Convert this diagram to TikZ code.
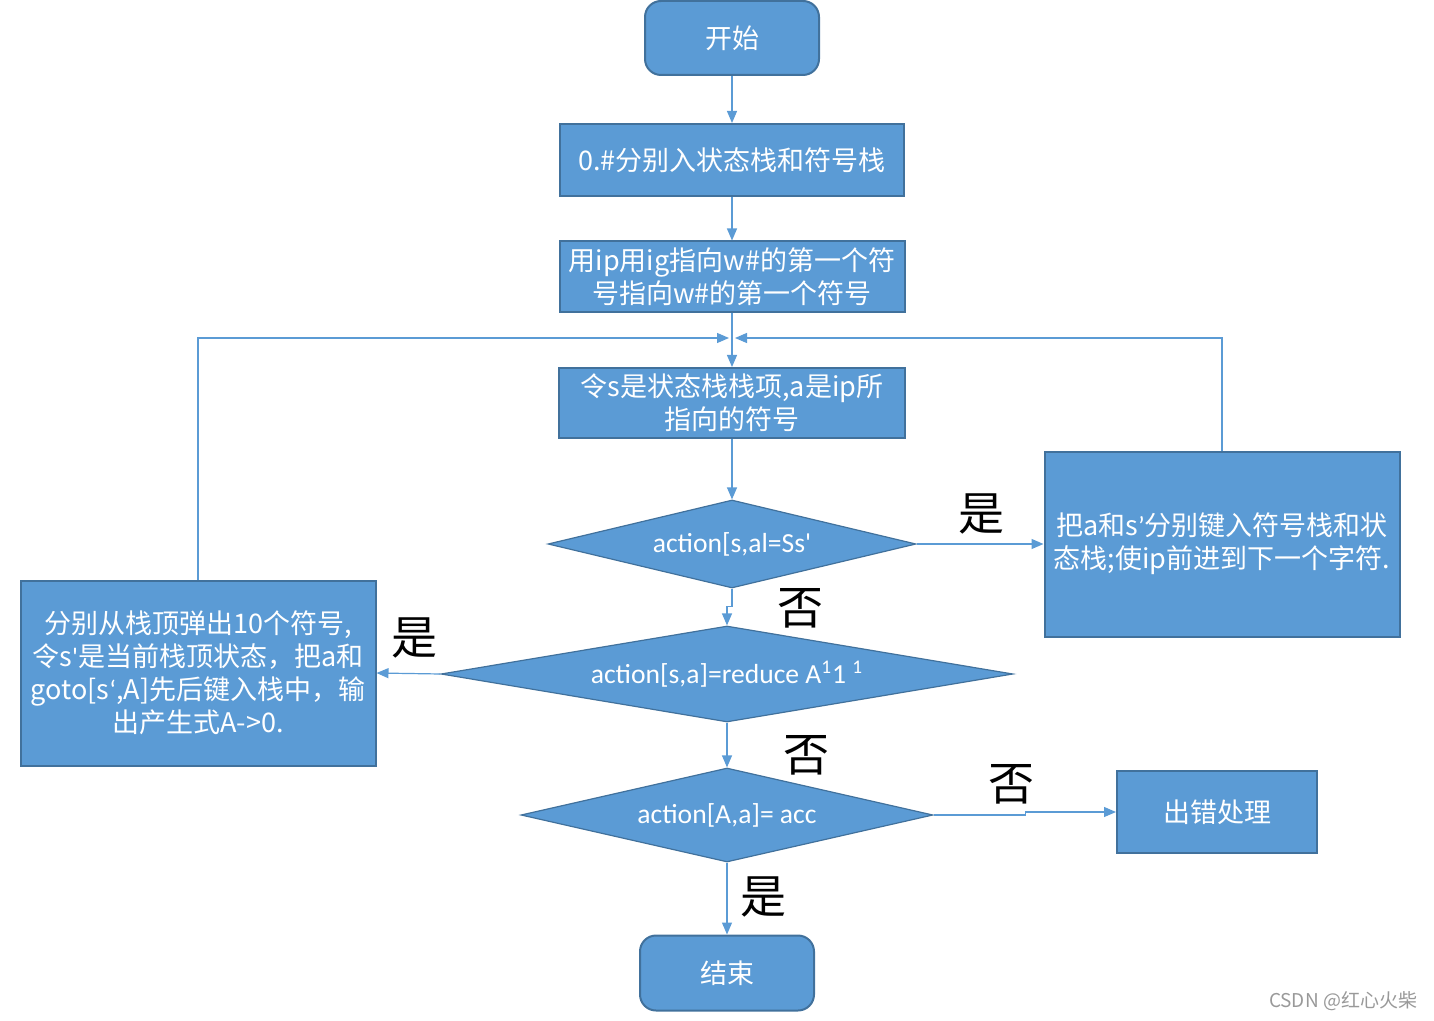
\documentclass[tikz,border=0pt]{standalone}
\usepackage{fontspec}
\setmainfont{Noto Sans CJK SC}
\newfontfamily\latinfont{Carlito}
\usetikzlibrary{shapes.geometric,arrows.meta}

\definecolor{boxfill}{HTML}{5B9BD5}
\definecolor{boxedge}{HTML}{41719C}
\definecolor{linecol}{HTML}{5B9BD5}

\tikzset{
  box/.style={draw=boxedge, fill=boxfill, line width=1pt, text=white,
    align=center, inner sep=0pt, font=\fontsize{13.5}{16.5}\selectfont},
  term/.style={box, rounded corners=8pt},
  test/.style={diamond, draw=boxedge, fill=boxfill, line width=0.6pt,
    text=white, inner sep=0pt, font=\latinfont\fontsize{13.8}{16}\selectfont},
  flow/.style={draw=linecol, line width=0.6pt, -{Triangle[width=5pt,length=6pt]}},
  answer/.style={text=black, font=\fontsize{23}{23}\selectfont},
}
\newcommand{\sq}{{\latinfont\textquotesingle}}

\begin{document}
\begin{tikzpicture}[x=0.5pt, y=-0.5pt]
   % Sizes
   \pgfmathsetmacro{\midx}{732}
   \pgfmathsetmacro{\lowx}{727}
   \useasboundingbox (0,0) rectangle (1434,1021);

   % boxes
   \node[term, minimum width=87pt, minimum height=37pt] (start) at (\midx, 38) {开始};
   \node[box, minimum width=172pt, minimum height=36pt] (init) at (\midx, 160) {0.\#分别入状态栈和符号栈};
   \node[box, minimum width=172.5pt, minimum height=35.5pt] (ip) at (\midx, 277)
     {用ip用ig指向w\#的第一个符\\号指向w\#的第一个符号};
   \coordinate (merge) at (\midx, 338);
   \node[box, minimum width=173pt, minimum height=35pt] (sbox) at (\midx, 403)
     {令s是状态栈栈项,a是ip所\\指向的符号};
   \node[box, minimum width=177.5pt, minimum height=92.5pt] (rbox) at (1222, 544)
     {把a和s{\latinfont ’}分别键入符号栈和状\\态栈;使ip前进到下一个字符.};
   \node[box, minimum width=177.5pt, minimum height=92.5pt] (lbox) at (198, 673)
     {分别从栈顶弹出10个符号,\\令s\sq 是当前栈顶状态，把a和\\goto[s{\latinfont ‘},A]先后键入栈中，输\\出产生式A->0.};
   \node[box, minimum width=100pt, minimum height=41pt] (err) at (1217, 812) {出错处理};
   \node[term, minimum width=87pt, minimum height=37.5pt] (end) at (\lowx, 973) {结束};

   % tests
   \node[test, aspect=4.18, minimum width=184pt, minimum height=44pt] (d1) at (\midx, 544) {action[s,al=Ss\sq};
   \node[test, aspect=5.96, minimum width=286pt, minimum height=48pt] (d2) at (\lowx, 674)
     {action[s,a]=reduce A\textsuperscript{1}1 \textsuperscript{1}};
   \node[test, aspect=4.38, minimum width=206pt, minimum height=47pt] (d3) at (\lowx, 815) {action[A,a]= acc};

   % draw diagram
   \draw[flow] (start) -- (init);
   \draw[flow] (init) -- (ip);
   \draw[flow] (ip) -- (sbox);
   \draw[flow] (sbox) -- (d1);
   \draw[flow] (d1.east) -- (rbox.west);
   \draw[flow] (d1.south) -- ++(0,18) -| (d2.north);
   \draw[flow] (d2.west) -- (lbox.east);
   \draw[flow] (d2) -- (d3);
   \draw[flow] (d3.east) -- ++(92,0) |- (err.west);
   \draw[flow] (d3) -- (end);
   \draw[flow, shorten >=1.5pt] (lbox.north) |- (merge);
   \draw[flow, shorten >=1.5pt] (rbox.north) |- (merge);

   % labels
   \node[answer] (yes1) at (981, 514) {是};
   \node[answer] (no1) at (800, 608) {否};
   \node[answer] (yes2) at (414, 638) {是};
   \node[answer] (no2) at (806, 755) {否};
   \node[answer] (no3) at (1011, 784) {否};
   \node[answer] (yes3) at (763, 897) {是};
   \node[text=black!40, font=\fontsize{9.5}{10}\selectfont] (mark) at (1343, 1001) {CSDN @红心火柴};
\end{tikzpicture}
\end{document}
